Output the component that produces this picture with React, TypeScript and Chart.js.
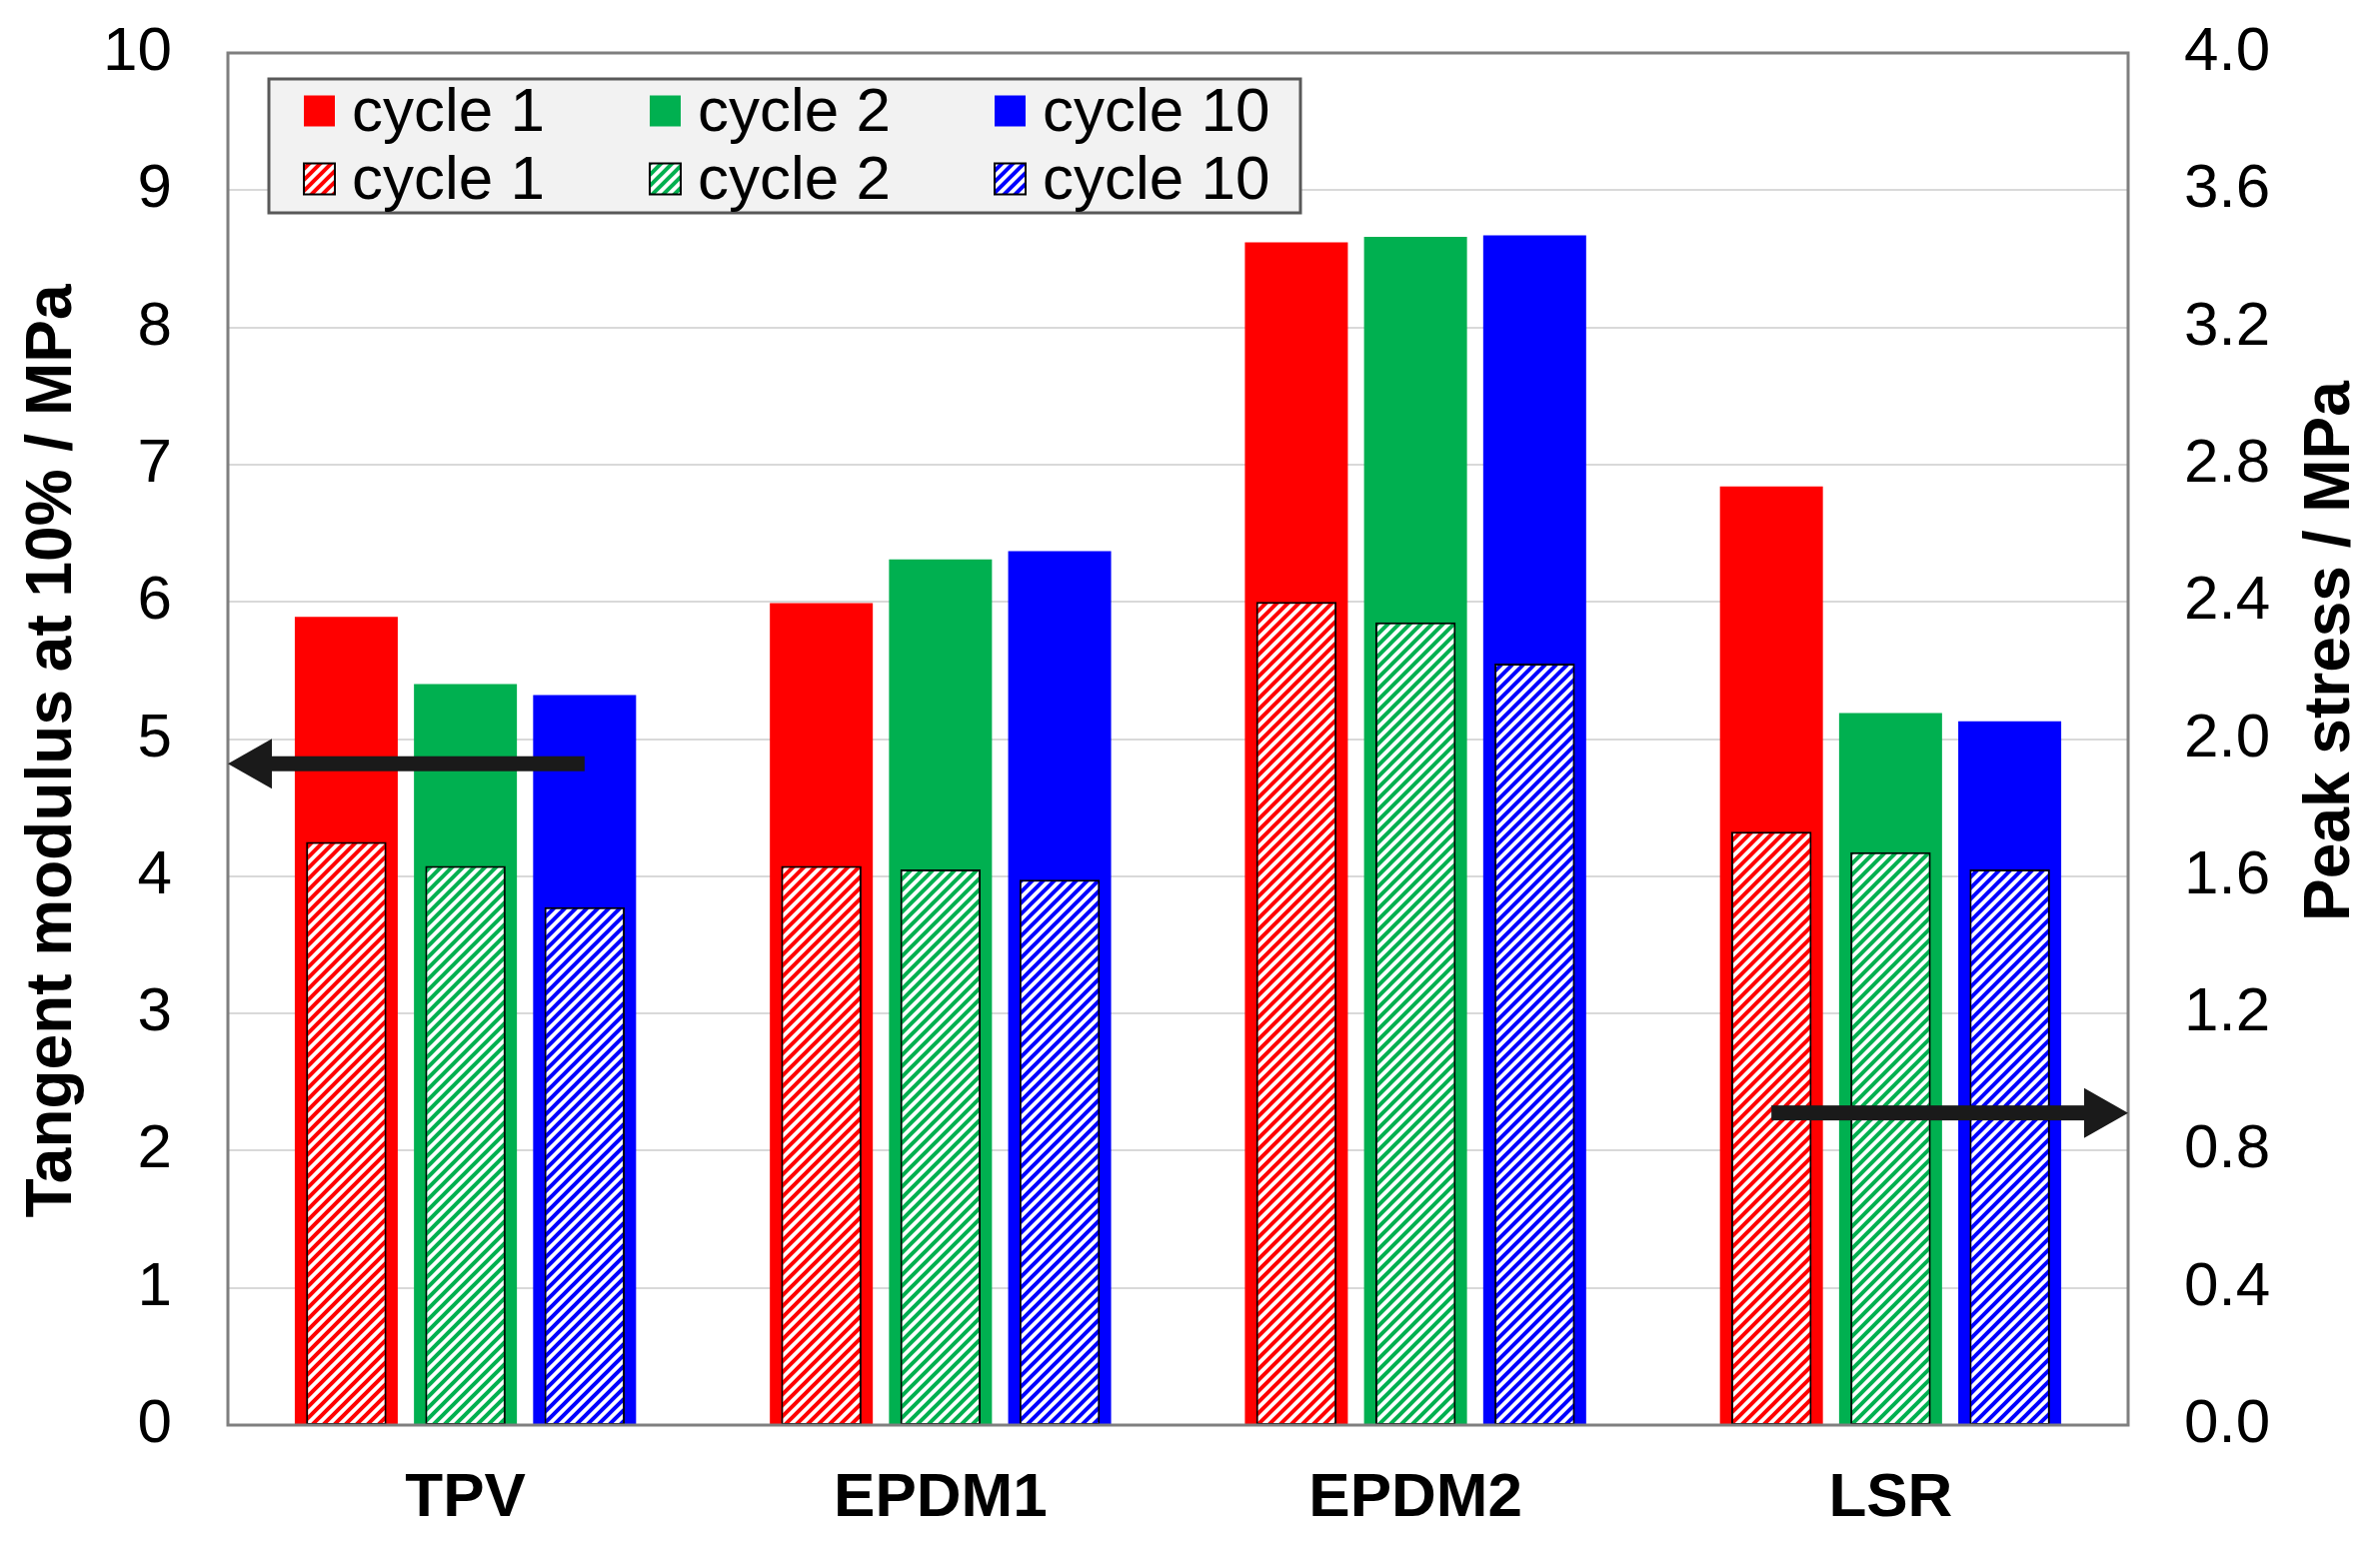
import React, { useEffect, useRef } from 'react';
import { Chart, registerables } from 'chart.js';

Chart.register(...registerables);

// ---------- data ----------
const categories = ['TPV', 'EPDM1', 'EPDM2', 'LSR'];
const cycleLabels = ['cycle 1', 'cycle 2', 'cycle 10'];
const cycleStacks = ['c1', 'c2', 'c10'];
const cycleColors = ['#ff0000', '#00b050', '#0000ff'];

// Tangent modulus at 10% / MPa (left axis, solid bars)
const tangentCycle1 = [5.89, 5.99, 8.62, 6.84];
const tangentCycle2 = [5.4, 6.31, 8.66, 5.19];
const tangentCycle10 = [5.32, 6.37, 8.67, 5.13];

// Peak stress / MPa (right axis, hatched bars)
const peakCycle1 = [1.7, 1.63, 2.4, 1.73];
const peakCycle2 = [1.63, 1.62, 2.34, 1.67];
const peakCycle10 = [1.51, 1.59, 2.22, 1.62];

const leftAxisTitle = 'Tangent modulus at 10% / MPa';
const rightAxisTitle = 'Peak stress / MPa';
const leftMin = 0;
const leftMax = 10;
const leftStep = 1;
const rightMin = 0;
const rightMax = 4;
const rightStep = 0.4;

// arrow levels (in axis values)
const leftArrowValue = 4.82;
const rightArrowValue = 0.91;

const FONT = '"Liberation Sans", Arial, sans-serif';
const W = 2381;
const H = 1547;

function makeHatch(color: string): CanvasPattern | string {
  const c = document.createElement('canvas');
  const p = 11;
  c.width = p;
  c.height = p;
  const g = c.getContext('2d');
  if (!g) return color;
  g.fillStyle = '#ffffff';
  g.fillRect(0, 0, p, p);
  g.strokeStyle = color;
  g.lineWidth = 4;
  g.lineCap = 'square';
  g.beginPath();
  g.moveTo(-p, p * 2);
  g.lineTo(p * 2, -p);
  g.moveTo(-p, p);
  g.lineTo(p, -p);
  g.moveTo(0, p * 2);
  g.lineTo(p * 2, 0);
  g.stroke();
  const pat = g.createPattern(c, 'repeat');
  return pat || color;
}

function drawArrow(ctx: CanvasRenderingContext2D, xTail: number, xTip: number, y: number) {
  const dir = xTip > xTail ? 1 : -1;
  const shaft = 15;
  const headLen = 44;
  const headHalf = 25;
  const xBase = xTip - dir * headLen;
  ctx.save();
  ctx.fillStyle = '#1a1a1a';
  ctx.fillRect(Math.min(xTail, xBase), y - shaft / 2, Math.abs(xBase - xTail), shaft);
  ctx.beginPath();
  ctx.moveTo(xTip, y);
  ctx.lineTo(xBase, y - headHalf);
  ctx.lineTo(xBase, y + headHalf);
  ctx.closePath();
  ctx.fill();
  ctx.restore();
}

function drawVerticalTitle(ctx: CanvasRenderingContext2D, text: string, x: number, y: number) {
  ctx.save();
  ctx.translate(x, y);
  ctx.rotate(-Math.PI / 2);
  ctx.font = `bold 64px ${FONT}`;
  ctx.fillStyle = '#000';
  ctx.textAlign = 'center';
  ctx.textBaseline = 'middle';
  ctx.fillText(text, 0, 0);
  ctx.restore();
}

export default function App() {
  const ref = useRef<HTMLCanvasElement | null>(null);

  useEffect(() => {
    document.body.style.margin = '0';
    const canvas = ref.current;
    if (!canvas) return;

    const hatches = cycleColors.map((c) => makeHatch(c));
    const solidSeries = [tangentCycle1, tangentCycle2, tangentCycle10];
    const hatchSeries = [peakCycle1, peakCycle2, peakCycle10];

    const solidSets = solidSeries.map((d, i) => ({
      label: cycleLabels[i],
      data: d,
      backgroundColor: cycleColors[i],
      borderWidth: 0,
      stack: cycleStacks[i],
      yAxisID: 'y',
      barPercentage: 0.864,
      categoryPercentage: 0.7525,
      order: 2,
    }));
    const hatchSets = hatchSeries.map((d, i) => ({
      label: cycleLabels[i],
      data: d,
      backgroundColor: hatches[i],
      borderColor: '#000000',
      borderWidth: 2,
      borderSkipped: false,
      stack: cycleStacks[i],
      yAxisID: 'y2',
      barPercentage: 0.675,
      categoryPercentage: 0.7525,
      order: 1,
    }));

    const overlay = {
      id: 'overlay',
      beforeDraw(chart: any) {
        const c = chart.ctx;
        c.save();
        c.fillStyle = '#ffffff';
        c.fillRect(0, 0, chart.width, chart.height);
        c.restore();
      },
      afterDatasetsDraw(chart: any) {
        const c: CanvasRenderingContext2D = chart.ctx;
        const a = chart.chartArea;
        // plot border
        c.save();
        c.strokeStyle = '#7f7f7f';
        c.lineWidth = 3;
        c.strokeRect(a.left, a.top, a.right - a.left, a.bottom - a.top);
        c.restore();

        // arrows
        const yL = chart.scales.y.getPixelForValue(leftArrowValue);
        const yR = chart.scales.y2.getPixelForValue(rightArrowValue);
        const tailL = chart.getDatasetMeta(2).data[0].x;
        const tailR = chart.getDatasetMeta(0).data[3].x;
        drawArrow(c, tailL, a.left, yL);
        drawArrow(c, tailR, a.right, yR);

        // axis titles
        const mid = (a.top + a.bottom) / 2;
        drawVerticalTitle(c, leftAxisTitle, 53, mid + 12);
        drawVerticalTitle(c, rightAxisTitle, 2332, mid - 88);

        // legend
        const bx = a.left + 41;
        const by = a.top + 26;
        const bw = 1032;
        const bh = 134;
        c.save();
        c.fillStyle = '#f2f2f2';
        c.fillRect(bx, by, bw, bh);
        c.strokeStyle = '#595959';
        c.lineWidth = 3;
        c.strokeRect(bx, by, bw, bh);
        const colX = [bx + 35, bx + 381, bx + 726];
        const rowY = [by + 32, by + 100];
        const sw = 31;
        c.font = `62px ${FONT}`;
        c.textBaseline = 'middle';
        c.textAlign = 'left';
        c.fillStyle = '#000';
        for (let r = 0; r < 2; r++) {
          for (let i = 0; i < 3; i++) {
            const x = colX[i];
            const y = rowY[r];
            if (r === 0) {
              c.fillStyle = cycleColors[i];
              c.fillRect(x, y - sw / 2, sw, sw);
            } else {
              c.fillStyle = hatches[i] as any;
              c.fillRect(x, y - sw / 2, sw, sw);
              c.strokeStyle = '#000';
              c.lineWidth = 2;
              c.strokeRect(x, y - sw / 2, sw, sw);
            }
            c.fillStyle = '#000';
            const label = r === 0 ? solidSets[i].label : hatchSets[i].label;
            c.fillText(label, x + 48, y + 3);
          }
        }
        c.restore();
      },
    };

    const chart = new Chart(canvas, {
      type: 'bar',
      data: {
        labels: categories,
        datasets: [...solidSets, ...hatchSets] as any,
      },
      options: {
        animation: false,
        responsive: false,
        devicePixelRatio: 1,
        layout: { padding: { top: 53, bottom: 0, left: 0, right: 0 } },
        plugins: {
          legend: { display: false },
          tooltip: { enabled: false },
        },
        scales: {
          x: {
            type: 'category',
            offset: true,
            grid: { display: false, drawTicks: false },
            border: { display: false },
            ticks: {
              color: '#000',
              padding: 37,
              font: { family: FONT, size: 62, weight: 'bold' },
            },
            afterFit(s: any) {
              s.height = 121;
              s.paddingLeft = 0;
              s.paddingRight = 0;
            },
          },
          y: {
            type: 'linear',
            position: 'left',
            min: leftMin,
            max: leftMax,
            ticks: {
              stepSize: leftStep,
              color: '#000',
              padding: 56,
              font: { family: FONT, size: 62 },
            },
            grid: { color: '#d9d9d9', lineWidth: 2, drawTicks: false },
            border: { display: false },
            afterFit(s: any) {
              s.width = 228;
              s.paddingTop = 0;
              s.paddingBottom = 0;
            },
          },
          y2: {
            type: 'linear',
            position: 'right',
            min: rightMin,
            max: rightMax,
            ticks: {
              stepSize: rightStep,
              color: '#000',
              padding: 56,
              font: { family: FONT, size: 62 },
              callback: (v: any) => Number(v).toFixed(1),
            },
            grid: { display: false, drawTicks: false },
            border: { display: false },
            afterFit(s: any) {
              s.width = 252;
              s.paddingTop = 0;
              s.paddingBottom = 0;
            },
          },
        },
      } as any,
      plugins: [overlay],
    });

    return () => {
      chart.destroy();
    };
  }, []);

  return (
    <div style={{ width: W, height: H, overflow: 'hidden' }}>
      <canvas ref={ref} width={W} height={H} style={{ display: 'block', width: W, height: H }} />
    </div>
  );
}
